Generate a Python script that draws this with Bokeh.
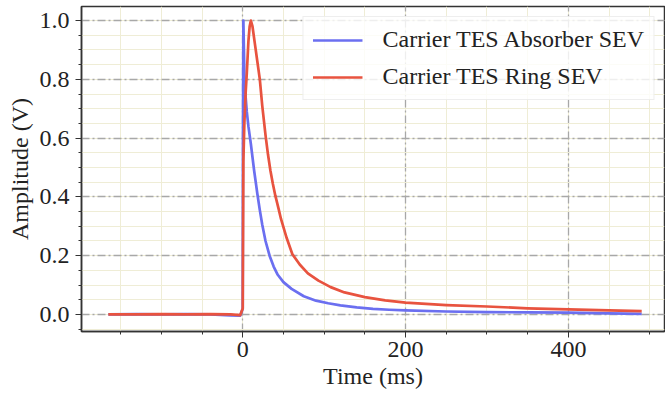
from bokeh.plotting import figure
from bokeh.models import SingleIntervalTicker, Range1d, Legend, LegendItem, PrintfTickFormatter
from bokeh.embed import file_html
from bokeh.resources import INLINE

# Data
t_absorber = [-165, -130, -100, -70, -40, -15, -3, 0, 0.3, 0.8, 2, 3, 5, 7, 10, 12, 14, 18, 21,
              24, 28, 33, 38, 43, 50, 60, 75, 90, 105, 120, 140, 160, 180, 200, 250, 300, 350,
              400, 450, 490]
a_absorber = [0.0, 0.001, 0.0, 0.001, 0.0, -0.003, -0.004, 0.02, 0.6, 1.0, 0.82, 0.76, 0.69,
              0.64, 0.58, 0.535, 0.49, 0.41, 0.355, 0.305, 0.25, 0.2, 0.163, 0.135, 0.11, 0.087,
              0.062, 0.047, 0.038, 0.031, 0.024, 0.019, 0.016, 0.014, 0.01, 0.008, 0.007, 0.006,
              0.004, 0.002]

t_ring = [-165, -130, -100, -70, -40, -15, -3, 0, 0.8, 2, 3.7, 5, 7, 8.5, 10, 12, 15, 18, 21,
          24, 28, 31, 34, 37, 40, 44, 47, 54, 61, 70, 80, 93, 108, 125, 150, 175, 200, 250,
          300, 350, 400, 450, 490]
a_ring = [0.0, 0.0, 0.001, 0.0, 0.001, 0.0, -0.002, 0.02, 0.52, 0.65, 0.76, 0.82, 0.93, 0.98,
          1.0, 0.98, 0.92, 0.86, 0.8, 0.71, 0.61, 0.545, 0.49, 0.445, 0.405, 0.36, 0.325,
          0.26, 0.205, 0.17, 0.14, 0.115, 0.093, 0.075, 0.059, 0.048, 0.04, 0.032, 0.027,
          0.021, 0.017, 0.014, 0.011]

labels = ["Carrier TES Absorber SEV", "Carrier TES Ring SEV"]
x_label = "Time (ms)"
y_label = "Amplitude (V)"

FONT = "Liberation Serif"

p = figure(width=665, height=397, output_backend="svg", toolbar_location=None,
           x_range=Range1d(-198, 518), y_range=Range1d(-0.058, 1.048),
           min_border_left=81, min_border_right=1, min_border_top=6, min_border_bottom=66)

p.background_fill_color = "white"
p.border_fill_color = "white"
p.outline_line_color = "#333333"
p.outline_line_width = 1.5

r1 = p.line(t_absorber, a_absorber, line_color="#6b6ff0", line_width=2.7, line_join="round")
r2 = p.line(t_ring, a_ring, line_color="#e8533f", line_width=2.7, line_join="round")

p.xaxis.ticker = SingleIntervalTicker(interval=200, num_minor_ticks=4)
p.yaxis.ticker = SingleIntervalTicker(interval=0.2, num_minor_ticks=4)
p.yaxis.formatter = PrintfTickFormatter(format="%.1f")

for ax in (p.xaxis[0], p.yaxis[0]):
    ax.axis_line_color = "#333333"
    ax.axis_line_width = 1.5
    ax.major_tick_line_color = "#333333"
    ax.minor_tick_line_color = "#333333"
    ax.major_tick_in = 0
    ax.major_tick_out = 6
    ax.minor_tick_in = 0
    ax.minor_tick_out = 3
    ax.major_label_text_font = FONT
    ax.major_label_text_font_size = "24px"
    ax.major_label_text_color = "#222222"
    ax.axis_label_text_font = FONT
    ax.axis_label_text_font_size = "24px"
    ax.axis_label_text_font_style = "normal"
    ax.axis_label_text_color = "#222222"

p.xaxis.axis_label = x_label
p.yaxis.axis_label = y_label
p.xaxis.major_label_standoff = 4
p.yaxis.major_label_standoff = 6
p.xaxis.axis_label_standoff = 3
p.yaxis.axis_label_standoff = 4

for g in (p.xgrid[0], p.ygrid[0]):
    g.grid_line_color = "#a8a8a8"
    g.grid_line_width = 1.3
    g.grid_line_dash = "8 3 2 3"
    g.minor_grid_line_color = "#efedd6"
    g.minor_grid_line_width = 1

legend = Legend(items=[LegendItem(label=labels[0], renderers=[r1]),
                       LegendItem(label=labels[1], renderers=[r2])],
                location="top_right")
legend.label_text_font = FONT
legend.label_text_font_size = "24px"
legend.label_text_color = "#222222"
legend.glyph_width = 50
legend.glyph_height = 20
legend.label_height = 20
legend.label_standoff = 20
legend.spacing = 10
legend.padding = 9
legend.margin = 10
legend.background_fill_color = "white"
legend.background_fill_alpha = 0.8
legend.border_line_color = "#dddddd"
legend.border_line_width = 1
p.add_layout(legend)

open("out.html", "w").write(file_html(p, INLINE))
